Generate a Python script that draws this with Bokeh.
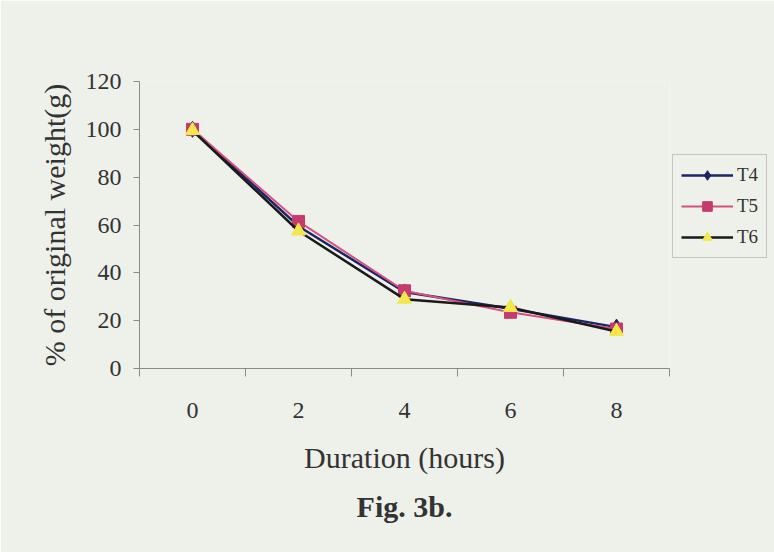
from bokeh.plotting import figure
from bokeh.models import (Range1d, FixedTicker, Legend, LegendItem, Title)
from bokeh.embed import file_html
from bokeh.resources import INLINE

hours = [0, 2, 4, 6, 8]
t4 = [100, 59.5, 32, 25, 17.3]
t5 = [100, 61.5, 32.5, 23.5, 16.5]
t6 = [99.5, 57.5, 29, 25.5, 15.5]
y_ticks = [0, 20, 40, 60, 80, 100, 120]
x_label = "Duration (hours)"
y_label = "% of original weight(g)"
caption = "Fig. 3b."

BG = "#eef0ea"
FONT = "Liberation Serif"

p = figure(frame_width=530, frame_height=287, output_backend="svg", toolbar_location=None,
           x_range=Range1d(-1, 9), y_range=Range1d(0, 120),
           min_border_left=139, min_border_right=0, min_border_top=81, min_border_bottom=184)
p.background_fill_color = BG
p.border_fill_color = BG
p.outline_line_color = None
p.grid.visible = False

p.xaxis.ticker = FixedTicker(ticks=hours, minor_ticks=[-1, 1, 3, 5, 7, 9])
p.xaxis.major_tick_out = 0
p.xaxis.major_tick_in = 0
p.xaxis.minor_tick_out = 8
p.xaxis.minor_tick_in = 0
p.xaxis.minor_tick_line_color = "#8a8a8a"
p.xaxis.axis_line_color = "#8a8a8a"
p.xaxis.major_label_standoff = 26
p.xaxis.major_label_text_font = FONT
p.xaxis.major_label_text_font_size = "24px"
p.xaxis.major_label_text_color = "#333333"
p.xaxis.axis_label = x_label
p.xaxis.axis_label_text_font = FONT
p.xaxis.axis_label_text_font_size = "30px"
p.xaxis.axis_label_text_font_style = "normal"
p.xaxis.axis_label_text_color = "#333333"
p.xaxis.axis_label_standoff = 20

p.yaxis.ticker = FixedTicker(ticks=y_ticks, minor_ticks=[])
p.yaxis.major_tick_out = 6
p.yaxis.major_tick_in = 0
p.yaxis.major_tick_line_color = "#8a8a8a"
p.yaxis.axis_line_color = "#8a8a8a"
p.yaxis.major_label_standoff = 12
p.yaxis.major_label_text_font = FONT
p.yaxis.major_label_text_font_size = "24px"
p.yaxis.major_label_text_color = "#333333"
p.yaxis.axis_label = y_label
p.yaxis.axis_label_text_font = FONT
p.yaxis.axis_label_text_font_size = "30px"
p.yaxis.axis_label_text_font_style = "normal"
p.yaxis.axis_label_text_color = "#333333"
p.yaxis.axis_label_standoff = 12

cap = Title(text=caption, align="center", text_font=FONT, text_font_size="30px",
            text_font_style="bold", text_color="#333333", offset=0, standoff=22)
p.add_layout(cap, "below")

l4 = p.line(hours, t4, line_color="#1b2466", line_width=2.5)
m4 = p.scatter(hours, t4, marker="diamond", size=16, fill_color="#1b2466", line_color="#1b2466")
l5 = p.line(hours, t5, line_color="#d8507f", line_width=2)
m5 = p.scatter(hours, t5, marker="square", size=12, fill_color="#c63b6e", line_color="#c63b6e")
l6 = p.line(hours, t6, line_color="#1a1a1a", line_width=2.5)
m6 = p.scatter(hours, t6, marker="triangle", size=14, fill_color="#f2e84a", line_color="#f2e84a")

legend = Legend(items=[LegendItem(label="T4", renderers=[l4, m4]),
                       LegendItem(label="T5", renderers=[l5, m5]),
                       LegendItem(label="T6", renderers=[l6, m6])],
                location=(3, 110), orientation="vertical",
                label_text_font=FONT, label_text_font_size="19px", label_text_color="#333333",
                glyph_width=52, glyph_height=24, spacing=7, padding=8, margin=3,
                label_standoff=4, background_fill_color=BG, background_fill_alpha=1,
                border_line_color="#9a9a9a", border_line_width=1)
p.add_layout(legend, "right")

open("out.html", "w").write(file_html(p, INLINE))
